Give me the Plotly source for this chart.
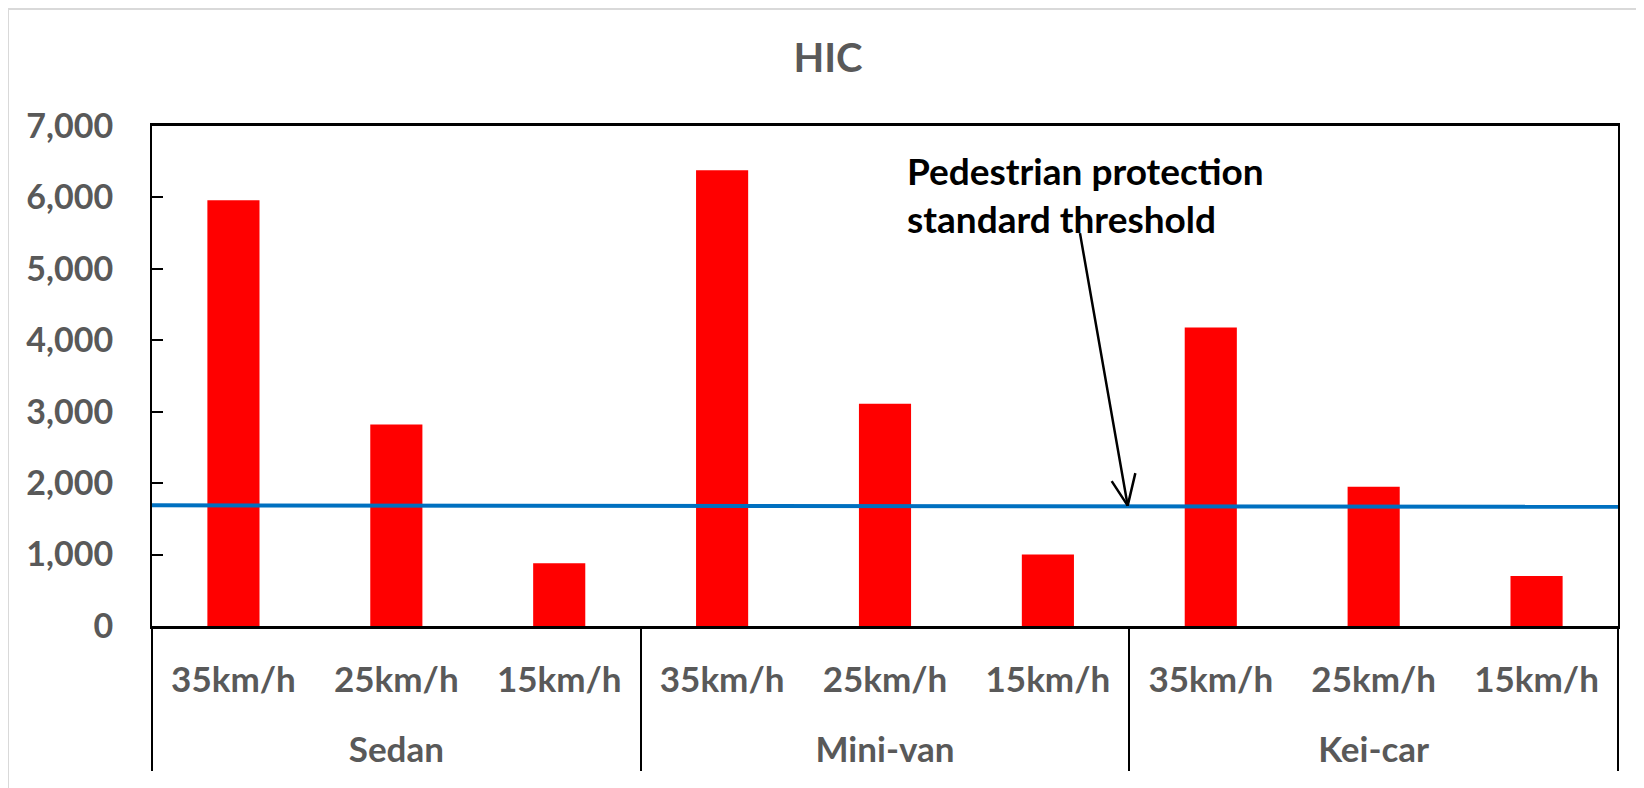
import plotly.graph_objects as go

# ---- data ----
vehicles = ["Sedan", "Sedan", "Sedan", "Mini-van", "Mini-van", "Mini-van", "Kei-car", "Kei-car", "Kei-car"]
speeds = ["35km/h", "25km/h", "15km/h", "35km/h", "25km/h", "15km/h", "35km/h", "25km/h", "15km/h"]
hic_values = [5960, 2820, 880, 6380, 3110, 1000, 4180, 1950, 700]
threshold_x = [0, 1]
threshold_y = [1690, 1668]
y_ticks = [0, 1000, 2000, 3000, 4000, 5000, 6000, 7000]
annotation_text = "Pedestrian protection<br>standard threshold"
arrow_tip_y = 1685

FONT = "Lato"
GRAY = "#595959"

# inner labels get an invisible spacer line so the group row sits lower (Excel-like)
speed_labels = [s + "<br><span style='font-size:44px'>\u00a0</span>" for s in speeds]

# browser body has an 8px margin: figure spans screen 8..1644 x 8..788
W, H = 1636, 780
L, T, R, B = 144, 118, 26, 162
PW, PH = W - L - R, H - T - B

fig = go.Figure()
fig.add_trace(go.Bar(
    x=[vehicles, speed_labels], y=hic_values,
    marker=dict(color="#FF0000", line=dict(width=0)),
    showlegend=False,
))
fig.add_trace(go.Scatter(
    x=threshold_x, y=threshold_y, xaxis="x2", yaxis="y",
    mode="lines", line=dict(color="#0070C0", width=4), showlegend=False,
))

tip_x = (1127.7 - 152) / 1466
arrow_common = dict(text="", xref="paper", yref="y", x=tip_x, y=arrow_tip_y,
                    showarrow=True, arrowhead=0, arrowwidth=2.5, arrowcolor="black",
                    standoff=0, startstandoff=0)

fig.update_layout(
    width=W, height=H,
    margin=dict(l=L, r=R, t=T, b=B),
    paper_bgcolor="white", plot_bgcolor="white",
    bargap=0.68,
    title=dict(text="HIC", x=820 / W, xanchor="center", y=1 - 50 / H, yanchor="middle",
               font=dict(family=FONT, size=40, color=GRAY, weight="bold")),
    xaxis=dict(
        type="multicategory",
        showline=True, linecolor="black", linewidth=2.5, mirror=True,
        showgrid=False, ticks="",
        tickfont=dict(family=FONT, size=35, color=GRAY, weight="bold"),
        ticklabelstandoff=21,
        showdividers=True, dividercolor="black", dividerwidth=2,
    ),
    xaxis2=dict(overlaying="x", range=[0, 1], visible=False, anchor="y"),
    yaxis=dict(
        range=[0, 7000], tickvals=y_ticks, tickformat=",",
        showline=True, linecolor="black", linewidth=2, mirror=True,
        showgrid=False, zeroline=False,
        ticks="inside", ticklen=11, tickwidth=2, tickcolor="black",
        tickfont=dict(family=FONT, size=34, color=GRAY, weight="bold"),
        ticklabelstandoff=30,
    ),
    shapes=[dict(type="rect", xref="paper", yref="paper",
                 x0=-L / PW, x1=2, y0=-2, y1=(PH + T - 1) / PH,
                 line=dict(color="#d9d9d9", width=2), fillcolor="rgba(0,0,0,0)", layer="below")],
    annotations=[
        dict(text=annotation_text, xref="paper", yref="paper",
             x=(905 - 152) / 1466, y=(626 - 146) / 500, xanchor="left", yanchor="top",
             align="left", showarrow=False,
             font=dict(family=FONT, size=37, color="black", weight="bold")),
        dict(arrow_common, ax=-48, ay=-274),
        dict(arrow_common, ax=-17, ay=-26),
        dict(arrow_common, ax=8, ay=-34),
    ],
)

fig.write_html("out.html")
